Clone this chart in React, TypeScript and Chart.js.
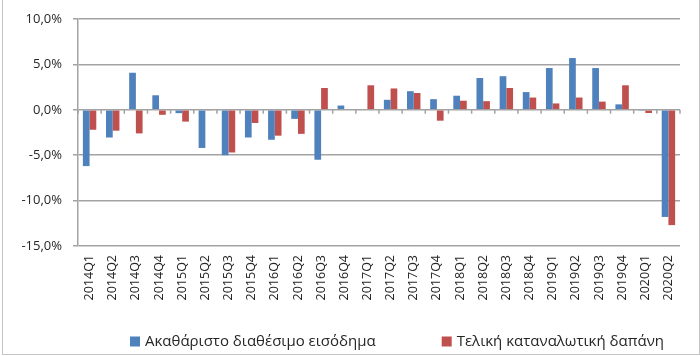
import React, { useEffect, useRef } from "react";
import { Chart, registerables } from "chart.js";

Chart.register(...registerables);

const categories = [
  "2014Q1", "2014Q2", "2014Q3", "2014Q4",
  "2015Q1", "2015Q2", "2015Q3", "2015Q4",
  "2016Q1", "2016Q2", "2016Q3", "2016Q4",
  "2017Q1", "2017Q2", "2017Q3", "2017Q4",
  "2018Q1", "2018Q2", "2018Q3", "2018Q4",
  "2019Q1", "2019Q2", "2019Q3", "2019Q4",
  "2020Q1", "2020Q2",
];

const incomeLabel = "Ακαθάριστο διαθέσιμο εισόδημα";
const income = [
  -6.2, -3.05, 4.08, 1.6,
  -0.37, -4.2, -5.0, -3.05,
  -3.3, -1.0, -5.5, 0.47,
  0.0, 1.1, 2.05, 1.17,
  1.55, 3.5, 3.7, 1.95,
  4.6, 5.7, 4.6, 0.6,
  -0.05, -11.8,
];

const spendingLabel = "Τελική καταναλωτική δαπάνη";
const spending = [
  -2.2, -2.3, -2.6, -0.55,
  -1.3, -0.1, -4.7, -1.45,
  -2.85, -2.65, 2.4, 0.0,
  2.7, 2.35, 1.85, -1.2,
  1.0, 0.95, 2.4, 1.35,
  0.7, 1.35, 0.9, 2.7,
  -0.35, -12.7,
];

const yMin = -15;
const yMax = 10;
const yStep = 5;

const BLUE = "#4F81BD";
const RED = "#C0504D";
const GRID = "#a3a3a3";
const TEXT = "#262626";
const FONT = "'Open Sans', 'DejaVu Sans', sans-serif";

const zeroTicksPlugin = {
  id: "zeroTicks",
  beforeDatasetsDraw(chart: any) {
    const { ctx, scales, chartArea } = chart;
    const xs = scales.x;
    const ys = scales.y;
    const y0 = ys.getPixelForValue(0);
    const n = chart.data.labels.length;
    ctx.save();
    ctx.strokeStyle = GRID;
    ctx.lineWidth = 1.5;
    ctx.beginPath();
    for (let i = 0; i <= n; i++) {
      let x: number;
      if (i === 0) x = chartArea.left;
      else if (i === n) x = chartArea.right;
      else x = (xs.getPixelForValue(i - 1) + xs.getPixelForValue(i)) / 2;
      ctx.moveTo(x, y0);
      ctx.lineTo(x, y0 + 4);
    }
    ctx.stroke();
    ctx.restore();
  },
};

const legendPlugin = {
  id: "customLegend",
  afterDraw(chart: any) {
    const { ctx } = chart;
    const ds = chart.data.datasets;
    ctx.save();
    ctx.font = `15px ${FONT}`;
    ctx.textBaseline = "middle";
    const box = 10;
    const gap = 5;
    const itemGap = 66;
    const widths = ds.map((d: any) => box + gap + ctx.measureText(d.label).width);
    const total = widths.reduce((a: number, b: number) => a + b, 0) + itemGap * (ds.length - 1);
    let x = 397 - total / 2;
    const cy = 341.5;
    ds.forEach((d: any, i: number) => {
      ctx.fillStyle = d.backgroundColor;
      ctx.fillRect(x, cy - box / 2, box, box);
      ctx.fillStyle = TEXT;
      ctx.fillText(d.label, x + box + gap, cy + 0.5);
      x += widths[i] + itemGap;
    });
    ctx.restore();
  },
};

export default function App() {
  const canvasRef = useRef<HTMLCanvasElement | null>(null);

  useEffect(() => {
    if (!canvasRef.current) return;
    const chart = new Chart(canvasRef.current, {
      type: "bar",
      data: {
        labels: categories,
        datasets: [
          {
            label: incomeLabel,
            data: income,
            backgroundColor: BLUE,
            borderWidth: 0,
            categoryPercentage: 0.58,
            barPercentage: 1,
          },
          {
            label: spendingLabel,
            data: spending,
            backgroundColor: RED,
            borderWidth: 0,
            categoryPercentage: 0.58,
            barPercentage: 1,
          },
        ],
      },
      options: {
        responsive: false,
        animation: false,
        devicePixelRatio: 1,
        layout: { padding: { left: 0, right: 20, top: 19, bottom: 28 } },
        plugins: {
          legend: { display: false },
          tooltip: { enabled: false },
          title: { display: false },
        },
        scales: {
          x: {
            grid: { display: false, drawTicks: true, tickLength: 6 },
            border: { display: false },
            ticks: {
              minRotation: 90,
              maxRotation: 90,
              autoSkip: false,
              padding: 3,
              color: TEXT,
              font: { family: FONT, size: 12.5 },
            },
            afterFit: (s: any) => {
              s.height = 82;
            },
          },
          y: {
            min: yMin,
            max: yMax,
            grid: {
              color: GRID,
              lineWidth: 1.5,
              drawTicks: true,
              tickLength: 5,
            },
            border: { display: true, color: GRID, width: 1.5 },
            ticks: {
              stepSize: yStep,
              padding: 11,
              color: TEXT,
              font: { family: FONT, size: 13 },
              callback: (v: any) => Number(v).toFixed(1).replace(".", ",") + "%",
            },
            afterFit: (s: any) => {
              s.width = 78;
            },
          },
        },
      },
      plugins: [zeroTicksPlugin, legendPlugin],
    });
    return () => chart.destroy();
  }, []);

  return (
    <div style={{ position: "absolute", left: 0, top: 0, width: 700, height: 356, background: "#fff", overflow: "hidden" }}>
      <canvas ref={canvasRef} width={700} height={356} style={{ display: "block" }} />
      <div
        style={{
          position: "absolute",
          left: 2,
          top: -1,
          width: 698,
          height: 356,
          boxSizing: "border-box",
          border: "1px solid #c4c4c4",
          pointerEvents: "none",
        }}
      />
    </div>
  );
}
